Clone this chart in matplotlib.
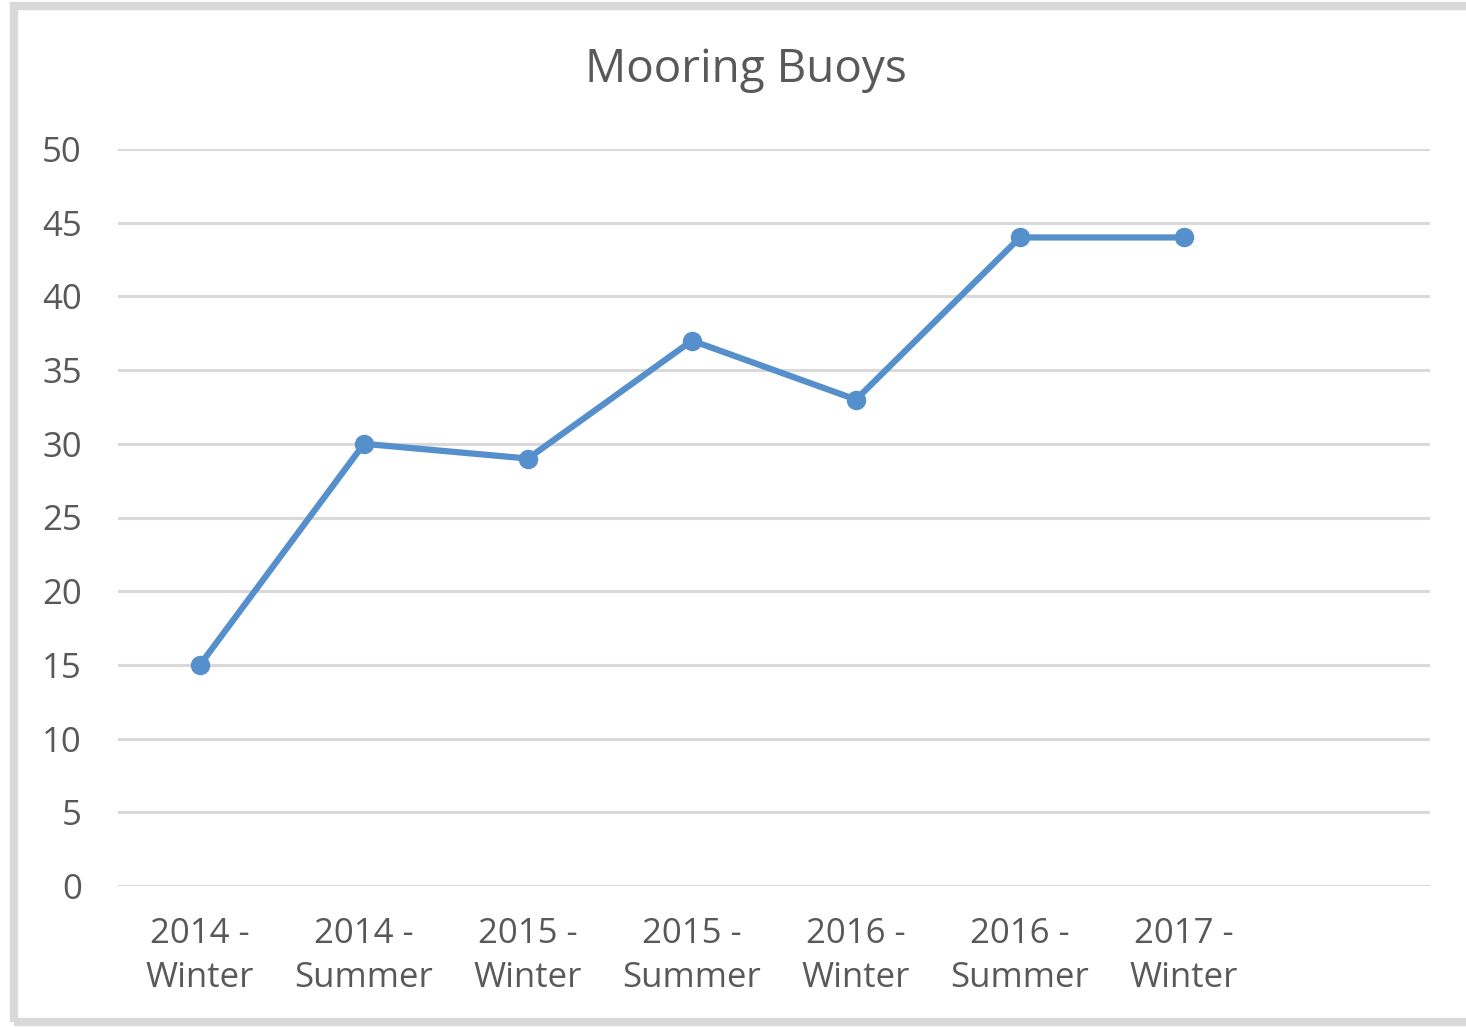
import matplotlib
matplotlib.use("Agg")
import matplotlib.pyplot as plt
from matplotlib.patches import Rectangle

categories = ["2014 -\nWinter", "2014 -\nSummer", "2015 -\nWinter", "2015 -\nSummer",
              "2016 -\nWinter", "2016 -\nSummer", "2017 -\nWinter", ""]
values = [15, 30, 29, 37, 33, 44, 44]
yticks = [0, 5, 10, 15, 20, 25, 30, 35, 40, 45, 50]

plt.rcParams['font.family'] = ['Open Sans', 'DejaVu Sans']

W, H = 1466, 1028
fig = plt.figure(figsize=(W / 100, H / 100), dpi=100)
ax = fig.add_axes([118 / W, 1 - 886 / H, (1430 - 118) / W, (886 - 149) / H])

x = list(range(len(values)))
ax.plot(x, values, color="#5690CC", lw=4.5, marker="o", ms=13,
        solid_capstyle="round", zorder=3)

ax.set_xlim(-0.5, len(categories) - 0.5)
ax.set_ylim(0, 50)
ax.set_yticks(yticks)
ax.set_xticks(range(len(categories)))
ax.set_xticklabels(categories, fontsize=25, color="#595959", linespacing=1.4)
ax.tick_params(axis="y", labelsize=25, labelcolor="#595959", length=0, pad=26)
ax.tick_params(axis="x", length=0, pad=22)
ax.grid(axis="y", color="#D9D9D9", lw=2.2)
ax.set_axisbelow(True)
for s in ax.spines.values():
    s.set_visible(False)

fig.text(746 / W, 1 - 70 / H, "Mooring Buoys", ha="center", va="center",
         fontsize=33, color="#595959")

# outer chart frame
fig.patches.append(Rectangle((14 / W, 6 / H), 1.2, 1 - 12 / H, transform=fig.transFigure,
                             fill=False, ec="#D9D9D9", lw=6, zorder=0))

fig.savefig("out.png", dpi=100)
